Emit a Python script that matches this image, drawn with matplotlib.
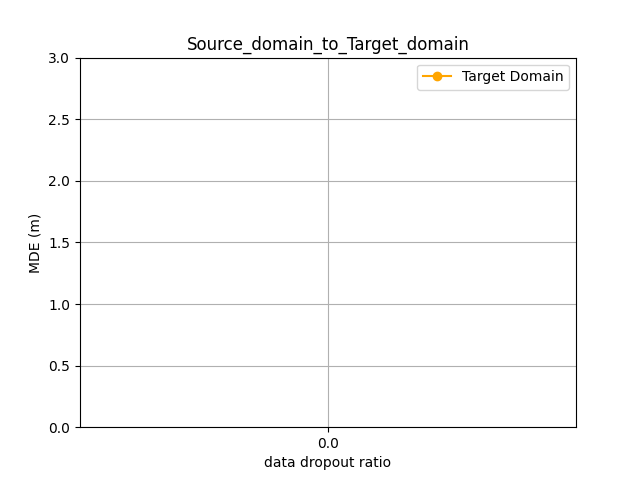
import numpy as np
import matplotlib
matplotlib.use("Agg")
import matplotlib.pyplot as plt

# data: one dropout ratio, no visible MDE value inside the plotted range
dropout_ratios = [0.0]
target_mde = [np.nan]

plt.figure(figsize=(6.4, 4.8), dpi=100)
plt.plot(dropout_ratios, target_mde, marker="o", color="orange", label="Target Domain")
plt.xlabel("data dropout ratio")
plt.ylabel("MDE (m)")
plt.title("Source_domain_to_Target_domain")
plt.xticks(dropout_ratios, [str(r) for r in dropout_ratios])
plt.xlim(dropout_ratios[0] - 0.055, dropout_ratios[-1] + 0.055)
plt.ylim(0, 3)
plt.grid(True)
plt.legend()
plt.savefig("out.png")
